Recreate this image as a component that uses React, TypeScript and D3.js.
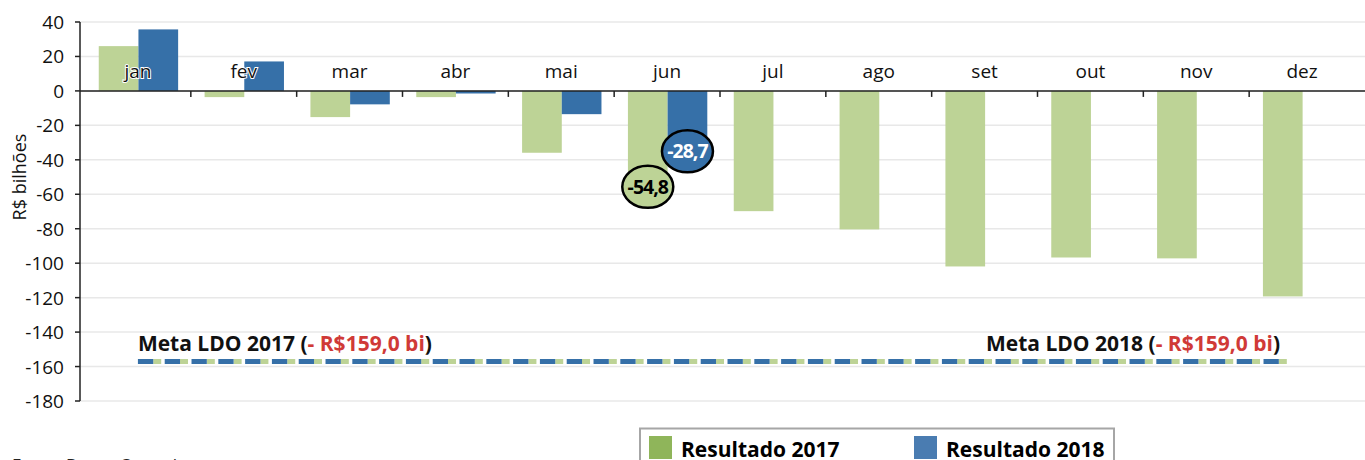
import * as d3 from "d3";

const months = ["jan", "fev", "mar", "abr", "mai", "jun", "jul", "ago", "set", "out", "nov", "dez"];
const res2017 = [26, -3.6, -15.2, -3.6, -35.9, -54.8, -69.8, -80.4, -101.9, -96.7, -97.2, -119.3];
const res2018 = [35.7, 17.1, -7.8, -1.5, -13.5, -28.7];
const yTicks = [40, 20, 0, -20, -40, -60, -80, -100, -120, -140, -160, -180];
const metaLevel = -157;
const metaLabels = ["Meta LDO 2017 (", "Meta LDO 2018 ("];
const metaValue = "- R$159,0 bi";
const callouts = [
  { month: "jun", serie: 0, text: "-54,8" },
  { month: "jun", serie: 1, text: "-28,7" },
];
const legendNames = ["Resultado 2017", "Resultado 2018"];

const W = 1365;
const H = 460;
const GREEN = "#bdd396";
const BLUE = "#3670a8";
const FONT = "'Open Sans', 'Noto Sans', sans-serif";

export default function App() {
  const x = d3.scaleBand<string>().domain(months).range([85, 1355]);
  const y = d3.scaleLinear().domain([40, -180]).range([22, 401]);
  const bw = x.bandwidth();
  const barW = bw * 0.375;
  const off = bw * 0.13;
  const y0 = y(0);

  const barX = (m: string, s: number) => (x(m) as number) + off + s * barW;

  const metaX1 = (x("jan") as number) + bw * 0.5;
  const metaX2 = (x("dez") as number) + bw * 0.38;

  return (
    <svg width={W} height={H} style={{ position: "absolute", left: 0, top: 0 }} fontFamily={FONT}>
      {/* grid */}
      {yTicks.map((t) => (
        <line key={"g" + t} x1={80} x2={W} y1={y(t)} y2={y(t)} stroke="#e8e8e8" strokeWidth={1.5} />
      ))}

      {/* bars 2017 */}
      {months.map((m, i) => (
        <rect
          key={"a" + m}
          x={barX(m, 0)}
          width={barW}
          y={Math.min(y(res2017[i]), y0)}
          height={Math.abs(y(res2017[i]) - y0)}
          fill={GREEN}
        />
      ))}
      {/* bars 2018 */}
      {res2018.map((v, i) => (
        <rect
          key={"b" + i}
          x={barX(months[i], 1)}
          width={barW}
          y={Math.min(y(v), y0)}
          height={Math.abs(y(v) - y0)}
          fill={BLUE}
        />
      ))}

      {/* y axis */}
      <line x1={80} x2={80} y1={y(40)} y2={y(-180)} stroke="#222" strokeWidth={1.5} />
      {yTicks.map((t) => (
        <g key={"t" + t}>
          <line x1={75} x2={80} y1={y(t)} y2={y(t)} stroke="#222" strokeWidth={1.5} />
          <text x={64} y={y(t) + 7} textAnchor="end" fontSize={19} fill="#111">
            {t}
          </text>
        </g>
      ))}
      <text
        transform={`translate(26,${y(-50)}) rotate(-90)`}
        textAnchor="middle"
        fontSize={18}
        fill="#111"
      >
        R$ bilhões
      </text>

      {/* zero line + ticks */}
      <line x1={80} x2={W} y1={y0} y2={y0} stroke="#222" strokeWidth={1.5} />
      {months.slice(1).map((m) => (
        <line key={"x" + m} x1={x(m)} x2={x(m)} y1={y0} y2={y0 + 6} stroke="#222" strokeWidth={1.5} />
      ))}
      {months.map((m) => (
        <text
          key={"l" + m}
          x={(x(m) as number) + bw / 2}
          y={78}
          textAnchor="middle"
          fontSize={19}
          fill="#111"
          stroke="#fff"
          strokeWidth={2}
          paintOrder="stroke"
        >
          {m}
        </text>
      ))}

      {/* meta line */}
      <line
        x1={metaX1}
        x2={metaX2}
        y1={y(metaLevel)}
        y2={y(metaLevel)}
        stroke={GREEN}
        strokeWidth={5}
        strokeDasharray="8 18.8"
        strokeDashoffset={-15.3}
      />
      <line
        x1={metaX1}
        x2={metaX2}
        y1={y(metaLevel)}
        y2={y(metaLevel)}
        stroke={BLUE}
        strokeWidth={5}
        strokeDasharray="15.3 11.5"
      />
      {[metaX1, 986].map((mx, i) => (
        <text key={"m" + i} x={mx} y={351} fontSize={21} fontWeight={700} fill="#111">
          {metaLabels[i]}
          <tspan fill="#d03a37">{metaValue}</tspan>)
        </text>
      ))}

      {/* callouts */}
      {callouts.map((c) => {
        const v = c.serie === 0 ? res2017[months.indexOf(c.month)] : res2018[months.indexOf(c.month)];
        const cx = barX(c.month, c.serie) + barW / 2;
        const cy = y(v) + (c.serie === 0 ? 1.5 : 11);
        return (
          <g key={c.text}>
            <ellipse cx={cx} cy={cy} rx={25.5} ry={21} fill={c.serie === 0 ? GREEN : BLUE} stroke="#000" strokeWidth={2.5} />
            <text
              x={cx}
              y={cy + 7}
              textAnchor="middle"
              fontSize={19.5}
              fontWeight={700}
              letterSpacing={-1}
              fill={c.serie === 0 ? "#000" : "#fff"}
            >
              {c.text}
            </text>
          </g>
        );
      })}

      {/* legend */}
      <rect x={640} y={428.5} width={474} height={40} fill="#fff" stroke="#a6a6a6" strokeWidth={2} />
      {legendNames.map((n, i) => (
        <g key={n} transform={`translate(${649 + i * 265},436)`}>
          <rect width={23} height={23} fill={i === 0 ? "#8fb55a" : "#4a7cb1"} />
          <text x={32} y={21} fontSize={21} fontWeight={700} fill="#000">
            {n}
          </text>
        </g>
      ))}

      <text x={12} y={471} fontSize={17} fill="#222">
        Fonte: Banco Central
      </text>
    </svg>
  );
}
